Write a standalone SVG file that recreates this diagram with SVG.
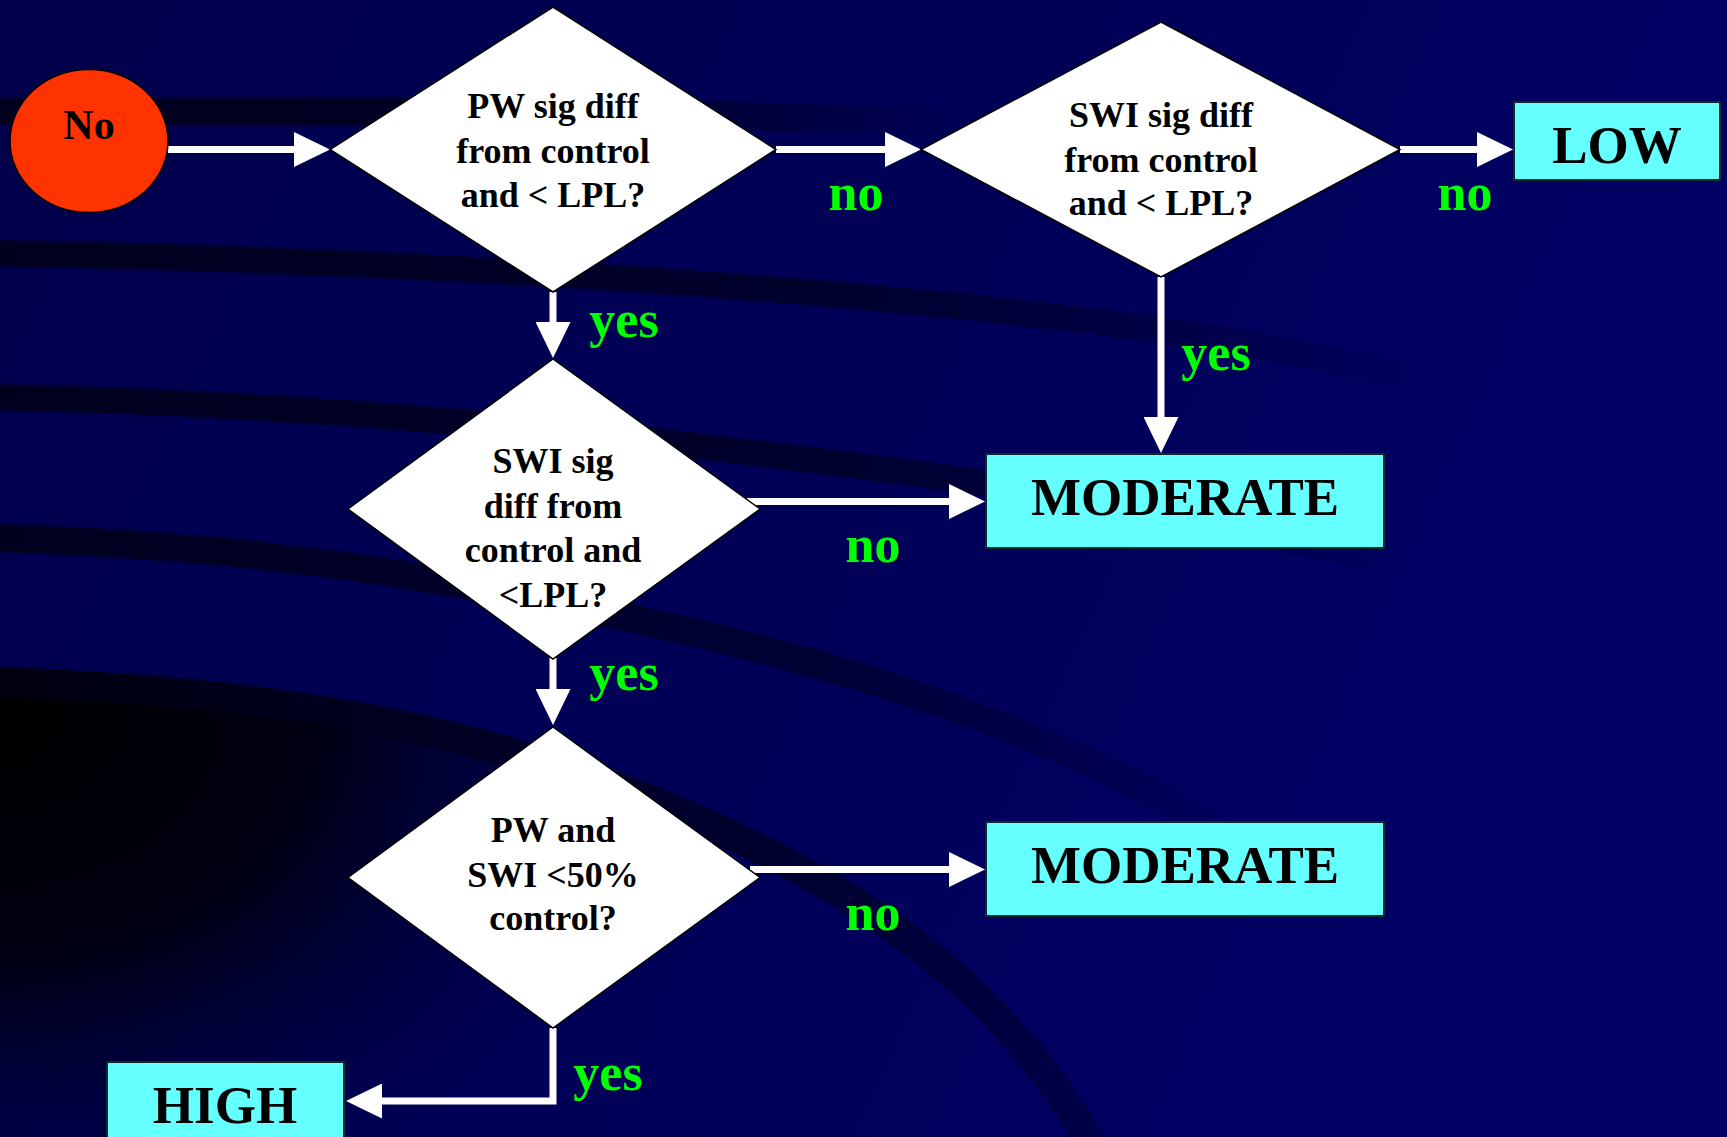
<svg xmlns="http://www.w3.org/2000/svg" width="1727" height="1137" viewBox="0 0 1727 1137">
  <defs>
    <linearGradient id="bg" x1="0" y1="0" x2="1" y2="0.3">
      <stop offset="0" stop-color="#00004c"/>
      <stop offset="0.6" stop-color="#000058"/>
      <stop offset="1" stop-color="#000066"/>
    </linearGradient>
    <linearGradient id="fade1" gradientUnits="userSpaceOnUse" x1="0" y1="0" x2="960" y2="0">
      <stop offset="0" stop-color="#00001e" stop-opacity="1"/>
      <stop offset="0.6" stop-color="#00001e" stop-opacity="0.85"/>
      <stop offset="1" stop-color="#00001e" stop-opacity="0"/>
    </linearGradient>
    <linearGradient id="fade2" gradientUnits="userSpaceOnUse" x1="0" y1="0" x2="1440" y2="0">
      <stop offset="0" stop-color="#00001e" stop-opacity="1"/>
      <stop offset="0.6" stop-color="#00001e" stop-opacity="0.7"/>
      <stop offset="1" stop-color="#00001e" stop-opacity="0"/>
    </linearGradient>
    <linearGradient id="fade3" gradientUnits="userSpaceOnUse" x1="0" y1="0" x2="1420" y2="0">
      <stop offset="0" stop-color="#00001e" stop-opacity="1"/>
      <stop offset="0.6" stop-color="#00001e" stop-opacity="0.7"/>
      <stop offset="1" stop-color="#00001e" stop-opacity="0"/>
    </linearGradient>
    <linearGradient id="fade4" gradientUnits="userSpaceOnUse" x1="0" y1="0" x2="1260" y2="0">
      <stop offset="0" stop-color="#00001e" stop-opacity="1"/>
      <stop offset="0.65" stop-color="#00001e" stop-opacity="0.6"/>
      <stop offset="1" stop-color="#00001e" stop-opacity="0"/>
    </linearGradient>
    <linearGradient id="fade5" gradientUnits="userSpaceOnUse" x1="0" y1="0" x2="1110" y2="0">
      <stop offset="0" stop-color="#000010" stop-opacity="1"/>
      <stop offset="0.7" stop-color="#00001e" stop-opacity="0.7"/>
      <stop offset="1" stop-color="#00001e" stop-opacity="0.35"/>
    </linearGradient>
    <radialGradient id="corner" gradientUnits="userSpaceOnUse" cx="0" cy="720" r="700" gradientTransform="translate(0 720) scale(1 0.75) translate(0 -720)">
      <stop offset="0" stop-color="#000000" stop-opacity="1"/>
      <stop offset="0.45" stop-color="#000008" stop-opacity="0.85"/>
      <stop offset="1" stop-color="#000040" stop-opacity="0"/>
    </radialGradient>
    <marker id="ah" viewBox="0 0 36 35" markerWidth="36" markerHeight="35" refX="0" refY="17.5" markerUnits="userSpaceOnUse" orient="auto">
      <path d="M0,0 L36,17.5 L0,35 Z" fill="#ffffff"/>
    </marker>
    <style>
      .band { fill: none; }
      .dia { fill: #ffffff; stroke: #000000; stroke-width: 1.5; }
      .box { fill: #66ffff; stroke: #0d2b2b; stroke-width: 2; }
      .conn { fill: none; stroke: #ffffff; stroke-width: 7; marker-end: url(#ah); }
      .q { font-family: "Liberation Serif", "Times New Roman", serif; font-weight: bold; font-size: 36px; fill: #000000; text-anchor: middle; }
      .big { font-family: "Liberation Serif", "Times New Roman", serif; font-weight: bold; font-size: 53px; fill: #000000; text-anchor: middle; }
      .lbl { font-family: "Liberation Serif", "Times New Roman", serif; font-weight: bold; font-size: 52px; fill: #00ff00; text-anchor: middle; }
    </style>
  </defs>

  <g id="background">
    <rect x="0" y="0" width="1727" height="1137" fill="url(#bg)"/>
    <path class="band" d="M -10 112 C 300 110 650 112 960 122" stroke="url(#fade1)" stroke-width="28"/>
    <path class="band" d="M -10 253 C 400 260 800 285 1100 322 C 1250 340 1350 365 1440 380" stroke="url(#fade2)" stroke-width="26"/>
    <path class="band" d="M -10 397 C 300 403 600 430 936 476 C 1100 500 1250 530 1420 570" stroke="url(#fade3)" stroke-width="26"/>
    <path class="band" d="M -10 538 C 250 545 450 575 700 634 C 850 670 1000 715 1158 796 C 1200 818 1230 835 1260 855" stroke="url(#fade4)" stroke-width="28"/>
    <path d="M -10 696 C 250 704 450 735 650 815 C 850 895 1000 995 1100 1150 L -10 1150 Z" fill="url(#corner)"/>
    <path class="band" d="M -10 682 C 250 690 450 720 650 800 C 850 880 1000 980 1095 1150" stroke="url(#fade5)" stroke-width="30"/>
  </g>

  <g id="connectors">
    <path class="conn" d="M 168 149.5 H 294"/>
    <path class="conn" d="M 776 149.5 H 885"/>
    <path class="conn" d="M 1400 149.5 H 1477"/>
    <path class="conn" d="M 553 292 V 322"/>
    <path class="conn" d="M 1161 277 V 417"/>
    <path class="conn" d="M 747 501.5 H 949"/>
    <path class="conn" d="M 553 658 V 689"/>
    <path class="conn" d="M 750 869.5 H 949"/>
    <path class="conn" d="M 553 1028 V 1101 H 382"/>
    <text class="lbl" x="856" y="210">no</text>
    <text class="lbl" x="1465" y="210">no</text>
    <text class="lbl" x="624" y="337">yes</text>
    <text class="lbl" x="1216" y="370">yes</text>
    <text class="lbl" x="873" y="562">no</text>
    <text class="lbl" x="624" y="690">yes</text>
    <text class="lbl" x="873" y="930">no</text>
    <text class="lbl" x="608" y="1090">yes</text>
  </g>

  <g id="start">
    <ellipse cx="89" cy="141" rx="79" ry="71.5" fill="#ff3300" stroke="#000000" stroke-width="1.5"/>
    <text x="89" y="139" font-family="Liberation Serif, Times New Roman, serif" font-weight="bold" font-size="42" text-anchor="middle" fill="#000000">No</text>
  </g>

  <g id="d1">
    <polygon class="dia" points="553,7 776,149.5 553,292 330,149.5"/>
    <text class="q" x="553" y="118">PW sig diff</text>
    <text class="q" x="553" y="163">from control</text>
    <text class="q" x="553" y="207">and &lt; LPL?</text>
  </g>

  <g id="d2">
    <polygon class="dia" points="1161,22 1400,149.5 1161,277 921,149.5"/>
    <text class="q" x="1161" y="127">SWI sig diff</text>
    <text class="q" x="1161" y="172">from control</text>
    <text class="q" x="1161" y="215">and &lt; LPL?</text>
  </g>

  <g id="d3">
    <polygon class="dia" points="553,359 760,509 553,659 348,509"/>
    <text class="q" x="553" y="473">SWI sig</text>
    <text class="q" x="553" y="518">diff from</text>
    <text class="q" x="553" y="562">control and</text>
    <text class="q" x="553" y="607">&lt;LPL?</text>
  </g>

  <g id="d4">
    <polygon class="dia" points="553,727 760,877.5 553,1028 348,877.5"/>
    <text class="q" x="553" y="842">PW and</text>
    <text class="q" x="553" y="887">SWI &lt;50%</text>
    <text class="q" x="553" y="930">control?</text>
  </g>

  <g id="low">
    <rect class="box" x="1514" y="102" width="206" height="78"/>
    <text class="big" x="1617" y="163">LOW</text>
  </g>

  <g id="moderate1">
    <rect class="box" x="986" y="454" width="398" height="94"/>
    <text class="big" x="1185" y="515">MODERATE</text>
  </g>

  <g id="moderate2">
    <rect class="box" x="986" y="822" width="398" height="94"/>
    <text class="big" x="1185" y="883">MODERATE</text>
  </g>

  <g id="high">
    <rect class="box" x="107" y="1062" width="237" height="90"/>
    <text class="big" x="225" y="1123">HIGH</text>
  </g>
</svg>
